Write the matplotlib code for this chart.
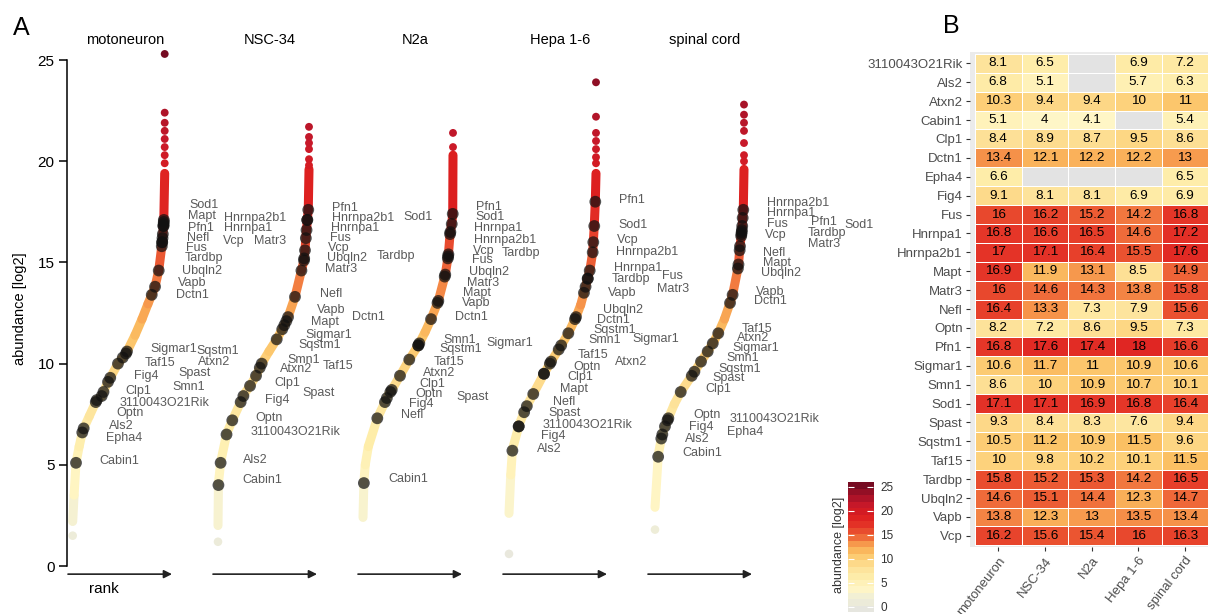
import numpy as np
import matplotlib.pyplot as plt
from matplotlib.colors import LinearSegmentedColormap, Normalize
from matplotlib.collections import LineCollection

plt.rcParams['font.family'] = ['Liberation Sans', 'DejaVu Sans']
NARROW = ['Liberation Sans Narrow', 'Liberation Sans', 'DejaVu Sans']

samples = ["motoneuron", "NSC-34", "N2a", "Hepa 1-6", "spinal cord"]
genes = ["3110043O21Rik", "Als2", "Atxn2", "Cabin1", "Clp1", "Dctn1", "Epha4",
         "Fig4", "Fus", "Hnrnpa1", "Hnrnpa2b1", "Mapt", "Matr3", "Nefl", "Optn",
         "Pfn1", "Sigmar1", "Smn1", "Sod1", "Spast", "Sqstm1", "Taf15", "Tardbp",
         "Ubqln2", "Vapb", "Vcp"]
nan = np.nan

# log2 abundance of the ALS genes (order of genes), nan = not detected
motoneuron = [8.1, 6.8, 10.3, 5.1, 8.4, 13.4, 6.6, 9.1, 16, 16.8, 17, 16.9, 16,
              16.4, 8.2, 16.8, 10.6, 8.6, 17.1, 9.3, 10.5, 10, 15.8, 14.6, 13.8, 16.2]
nsc34 = [6.5, 5.1, 9.4, 4, 8.9, 12.1, nan, 8.1, 16.2, 16.6, 17.1, 11.9, 14.6,
         13.3, 7.2, 17.6, 11.7, 10, 17.1, 8.4, 11.2, 9.8, 15.2, 15.1, 12.3, 15.6]
n2a = [nan, nan, 9.4, 4.1, 8.7, 12.2, nan, 8.1, 15.2, 16.5, 16.4, 13.1, 14.3,
       7.3, 8.6, 17.4, 11, 10.9, 16.9, 8.3, 10.9, 10.2, 15.3, 14.4, 13, 15.4]
hepa16 = [6.9, 5.7, 10, nan, 9.5, 12.2, nan, 6.9, 14.2, 14.6, 15.5, 8.5, 13.8,
          7.9, 9.5, 18, 10.9, 10.7, 16.8, 7.6, 11.5, 10.1, 14.2, 12.3, 13.5, 16]
spinal_cord = [7.2, 6.3, 11, 5.4, 8.6, 13, 6.5, 6.9, 16.8, 17.2, 17.6, 14.9, 15.8,
               15.6, 7.3, 16.6, 10.6, 10.1, 16.4, 9.4, 9.6, 11.5, 16.5, 14.7, 13.4, 16.3]

# rank curves: rank fraction -> abundance
moto_rank = [0, 0.015, 0.036, 0.07, 0.109, 0.18, 0.261, 0.315, 0.384, 0.492, 0.579,
             0.677, 0.753, 0.818, 0.859, 0.895, 0.935, 0.971, 0.99, 1.0]
moto_abund = [2.2, 3.5, 5.1, 5.9, 6.7, 7.4, 8.2, 8.4, 9.1, 10.0, 10.5, 11.4, 12.2,
              12.95, 13.4, 13.8, 14.6, 15.9, 17.0, 19.4]
nsc_rank = [0, 0.005, 0.03, 0.096, 0.157, 0.249, 0.289, 0.352, 0.418, 0.48, 0.56,
            0.645, 0.718, 0.762, 0.846, 0.92, 0.945, 0.956, 0.967, 0.975, 0.981, 0.992, 1.0]
nsc_abund = [2.0, 4.1, 5.15, 6.55, 7.2, 8.1, 8.5, 8.9, 9.4, 10.0, 10.6, 11.2, 11.8,
             12.2, 13.3, 14.66, 15.1, 15.6, 16.3, 16.7, 17.1, 17.6, 19.6]
n2a_rank = [0, 0.01, 0.025, 0.059, 0.159, 0.244, 0.281, 0.319, 0.411, 0.514, 0.614,
            0.689, 0.756, 0.837, 0.914, 0.948, 0.967, 0.986, 0.997, 1.0]
n2a_abund = [2.4, 4.16, 5.0, 5.9, 7.3, 8.1, 8.45, 8.7, 9.4, 10.2, 10.9, 11.55, 12.2,
             13.1, 14.4, 15.35, 16.4, 16.9, 17.4, 20.3]
hepa_rank = [0, 0.02, 0.04, 0.118, 0.164, 0.21, 0.279, 0.402, 0.483, 0.586, 0.682,
             0.77, 0.824, 0.874, 0.905, 0.931, 0.962, 0.969, 0.98, 0.992, 1.0]
hepa_abund = [2.6, 4.5, 5.77, 7.0, 7.5, 7.95, 8.5, 9.5, 10.1, 10.8, 11.5, 12.3, 12.9,
              13.7, 14.2, 14.66, 15.5, 16.0, 16.8, 18.0, 19.4]
spinal_rank = [0, 0.037, 0.075, 0.112, 0.15, 0.217, 0.289, 0.413, 0.517, 0.592, 0.649,
               0.711, 0.78, 0.843, 0.872, 0.936, 0.955, 0.974, 0.98, 0.985, 0.992, 1.0]
spinal_abund = [2.9, 5.5, 6.4, 6.9, 7.3, 8.0, 8.6, 9.4, 10.1, 10.6, 11.0, 11.5, 12.2,
                13.0, 13.4, 14.8, 15.8, 16.5, 16.8, 17.2, 17.6, 19.6]

# most abundant proteins (separate dots above the curve) and the lowest ones
moto_top = [19.9, 20.3, 20.7, 21.1, 21.5, 21.9, 22.4, 25.3]
nsc_top = [19.8, 20.1, 20.6, 20.9, 21.2, 21.7]
n2a_top = [20.7, 21.4]
hepa_top = [19.9, 20.2, 20.6, 21.0, 21.4, 22.2, 23.9]
spinal_top = [20.0, 20.3, 20.9, 21.5, 21.9, 22.3, 22.8]
moto_low = [1.5]
nsc_low = [1.2]
n2a_low = []
hepa_low = [0.6]
spinal_low = [1.8]

values = [motoneuron, nsc34, n2a, hepa16, spinal_cord]
curves = [(moto_rank, moto_abund, moto_top, moto_low),
          (nsc_rank, nsc_abund, nsc_top, nsc_low),
          (n2a_rank, n2a_abund, n2a_top, n2a_low),
          (hepa_rank, hepa_abund, hepa_top, hepa_low),
          (spinal_rank, spinal_abund, spinal_top, spinal_low)]

# layout of panel A (x in pixels)
panel_x0 = [72, 217, 362, 507, 652]
curve_x0 = [72.7, 218, 363, 509, 655]
curve_w = [92, 91, 90, 87, 89]

# gene label placement (x offset from panel start, y in abundance units)
label_pos = [
    {"Sod1": (117, 17.84), "Mapt": (116, 17.3), "Pfn1": (116, 16.71), "Nefl": (115, 16.21),
     "Fus": (114, 15.71), "Tardbp": (113, 15.24), "Ubqln2": (110, 14.58), "Vapb": (106, 13.96),
     "Dctn1": (104, 13.38), "Sigmar1": (78, 10.71), "Sqstm1": (124, 10.61), "Taf15": (73, 10.03),
     "Atxn2": (126, 10.08), "Fig4": (62, 9.41), "Spast": (106, 9.54), "Clp1": (53, 8.67),
     "Smn1": (100, 8.86), "3110043O21Rik": (48, 8.05), "Optn": (44, 7.54), "Als2": (37, 6.92),
     "Epha4": (34, 6.34), "Cabin1": (27, 5.18), "Hnrnpa2b1": (152, 17.18),
     "Hnrnpa1": (152, 16.68), "Vcp": (151, 16.07), "Matr3": (182, 16.07)},
    {"Pfn1": (115, 17.67), "Hnrnpa2b1": (115, 17.18), "Hnrnpa1": (114, 16.71), "Fus": (113, 16.22),
     "Vcp": (111, 15.7), "Ubqln2": (110, 15.2), "Matr3": (108, 14.66), "Nefl": (103, 13.42),
     "Vapb": (100, 12.65), "Dctn1": (135, 12.32), "Mapt": (94, 12.07), "Sigmar1": (88, 11.41),
     "Sqstm1": (81, 10.92), "Smn1": (70, 10.18), "Taf15": (106, 9.9), "Atxn2": (63, 9.72),
     "Clp1": (57, 9.03), "Spast": (85, 8.53), "Fig4": (48, 8.2), "Optn": (38, 7.3),
     "3110043O21Rik": (34, 6.61), "Als2": (26, 5.24), "Cabin1": (25, 4.25),
     "Sod1": (186, 17.23), "Tardbp": (160, 15.33)},
    {"Pfn1": (114, 17.72), "Sod1": (113, 17.23), "Hnrnpa1": (112, 16.71), "Hnrnpa2b1": (112, 16.11),
     "Vcp": (111, 15.56), "Fus": (110, 15.12), "Ubqln2": (107, 14.54), "Matr3": (105, 13.97),
     "Mapt": (101, 13.5), "Vapb": (100, 13.01), "Dctn1": (93, 12.29), "Smn1": (81, 11.17),
     "Sqstm1": (77, 10.71), "Sigmar1": (124, 11.0), "Taf15": (72, 10.09), "Atxn2": (61, 9.52),
     "Clp1": (57, 8.99), "Optn": (53, 8.5), "Spast": (94, 8.36), "Fig4": (47, 8.0),
     "Nefl": (39, 7.46), "Cabin1": (26, 4.28), "Tardbp": (140, 15.46)},
    {"Pfn1": (112, 18.08), "Sod1": (111, 16.85), "Vcp": (110, 16.11), "Hnrnpa2b1": (109, 15.53),
     "Hnrnpa1": (107, 14.71), "Tardbp": (105, 14.16), "Vapb": (101, 13.5), "Ubqln2": (96, 12.65),
     "Dctn1": (90, 12.15), "Sqstm1": (86, 11.66), "Smn1": (81, 11.17), "Sigmar1": (125, 11.2),
     "Taf15": (71, 10.42), "Atxn2": (108, 10.09), "Optn": (66, 9.85), "Clp1": (60, 9.32),
     "Mapt": (53, 8.73), "Nefl": (46, 8.12), "Spast": (41, 7.57), "3110043O21Rik": (36, 6.97),
     "Fig4": (34, 6.42), "Als2": (30, 5.77), "Fus": (155, 14.33), "Matr3": (150, 13.67)},
    {"Hnrnpa2b1": (115, 17.92), "Hnrnpa1": (115, 17.43), "Fus": (115, 16.88), "Vcp": (113, 16.35),
     "Pfn1": (159, 17.01), "Tardbp": (156, 16.47), "Matr3": (156, 15.91), "Sod1": (192, 16.85),
     "Nefl": (111, 15.48), "Mapt": (111, 14.99), "Ubqln2": (109, 14.46), "Vapb": (104, 13.55),
     "Dctn1": (102, 13.11), "Taf15": (90, 11.69), "Atxn2": (85, 11.25), "Sigmar1": (80, 10.76),
     "Smn1": (74, 10.29), "Sqstm1": (66, 9.72), "Spast": (60, 9.27), "Clp1": (53, 8.73),
     "Optn": (41, 7.46), "Fig4": (37, 6.85), "Als2": (33, 6.26), "Cabin1": (30, 5.6),
     "3110043O21Rik": (78, 7.25), "Epha4": (75, 6.64)},
]

stops = [(0, "#e6e6df"), (2.5, "#f2f0d5"), (4, "#fff6c6"), (6.5, "#feedaa"),
         (8.5, "#fde096"), (10, "#fdd27c"), (11.5, "#fbc063"), (12.5, "#f9a955"),
         (13.5, "#f58f48"), (14.5, "#f06e3b"), (15.5, "#ea5230"), (16.5, "#e63d2a"),
         (17.5, "#e22b25"), (19, "#dc1e1f"), (21, "#c8192a"), (23, "#a51228"),
         (25, "#760b22")]
cmap = LinearSegmentedColormap.from_list("abund", [(v / 25, c) for v, c in stops])
norm = Normalize(0, 25)

fig = plt.figure(figsize=(12.08, 6.14), dpi=100)

# ---- panel A ----
ax = fig.add_axes([67 / 1208, 1 - 596.4 / 614, 813 / 1208, 28 * 20.24 / 614])
ax.set_xlim(67, 880)
ax.set_ylim(-1.5, 26.5)

for i in range(5):
    rank, abund, top, low = curves[i]
    x0, w = curve_x0[i], curve_w[i]
    r = np.array(rank)
    a = np.array(abund)
    pts = np.column_stack([x0 + r * w, a])
    segs = np.stack([pts[:-1], pts[1:]], axis=1)
    lc = LineCollection(segs, colors=cmap(norm((a[:-1] + a[1:]) / 2)),
                        linewidths=6.5, capstyle='round', joinstyle='round', zorder=2)
    ax.add_collection(lc)
    ax.scatter(np.full(len(top), x0 + w), top, s=32, c=cmap(norm(np.array(top))),
               edgecolors='none', zorder=3)
    if low:
        ax.scatter(np.full(len(low), x0), low, s=38, c=cmap(norm(np.array(low))),
                   edgecolors='none', zorder=3)

    v = np.array(values[i], dtype=float)
    ok = ~np.isnan(v)
    gx = x0 + np.interp(v[ok], a, r) * w
    ax.scatter(gx, v[ok], s=72, color='#111111', alpha=0.72, edgecolors='none', zorder=4)

    for g, (dx, y) in label_pos[i].items():
        ax.text(panel_x0[i] + dx, y, g, fontsize=9, family=NARROW, color='#5a5a5a',
                ha='left', va='center', zorder=5)

    ax.text(panel_x0[i] + 53, 26.0, samples[i], ha='center', va='center', fontsize=10.5)
    ax.annotate('', xy=(panel_x0[i] + 100, -0.4), xytext=(panel_x0[i] - 4, -0.4),
                arrowprops=dict(arrowstyle='-|>', color='#222222', lw=1.2,
                                mutation_scale=12, shrinkA=0, shrinkB=0),
                annotation_clip=False)

ax.text(104, -1.15, 'rank', ha='center', va='center', fontsize=11)
for s in ['top', 'right', 'bottom']:
    ax.spines[s].set_visible(False)
ax.spines['left'].set_bounds(0, 25)
ax.spines['left'].set_linewidth(1.1)
ax.set_xticks([])
ax.set_yticks([0, 5, 10, 15, 20, 25])
ax.tick_params(axis='y', length=6, width=1.1, labelsize=11, pad=3)
fig.text(20 / 1208, 1 - 309 / 614, 'abundance [log2]', rotation=90,
         ha='center', va='center', fontsize=10.5)
fig.text(21 / 1208, 1 - 28 / 614, 'A', ha='center', va='center', fontsize=18)

# ---- colour bar ----
cax = fig.add_axes([847.7 / 1208, 1 - 611.7 / 614, 25.6 / 1208, 130 / 614])
cax.imshow(np.linspace(0, 25, 20)[:, None], cmap=cmap, norm=norm, aspect='auto',
           origin='lower', extent=(0, 1, -1, 26))
cax.set_xlim(0, 1)
cax.set_ylim(-1, 26)
cax.set_xticks([])
cax.set_yticks([0, 5, 10, 15, 20, 25])
cax.tick_params(axis='y', direction='in', colors='white', length=4, width=0.8,
                left=True, right=True, labelleft=False, labelright=True, pad=5)
for t in cax.get_yticklabels():
    t.set_color('#333333')
    t.set_fontsize(8.5)
for s in cax.spines.values():
    s.set_visible(False)
fig.text(839 / 1208, 1 - 545 / 614, 'abundance [log2]', rotation=90, family=NARROW,
         ha='center', va='center', fontsize=9, color='#333333')

# ---- panel B ----
mat = np.array(values).T
hax = fig.add_axes([970.3 / 1208, 1 - 547.2 / 614, 242.7 / 1208, 495.2 / 614])
hax.set_facecolor('#ebebeb')
hcmap = cmap.with_extremes(bad='#e3e3e3')
hax.pcolormesh(np.arange(6) - 0.5, np.arange(len(genes) + 1) - 0.5,
               np.ma.masked_invalid(mat), cmap=hcmap, norm=norm,
               edgecolors='white', linewidth=0.7)
for gi in range(len(genes)):
    for si in range(5):
        val = mat[gi, si]
        if not np.isnan(val):
            hax.text(si, gi, f"{val:g}", ha='center', va='center', fontsize=9.7,
                     color='black')
hax.set_xlim(-0.6, 4.6)
hax.set_ylim(len(genes) - 0.4, -0.6)
for s in hax.spines.values():
    s.set_visible(False)
hax.set_yticks(range(len(genes)))
hax.set_yticklabels(genes, family=NARROW, fontsize=9.5, color='#4d4d4d')
hax.set_xticks(range(5))
hax.set_xticklabels(samples, rotation=52, ha='right', rotation_mode='anchor',
                    fontsize=9.5, color='#4d4d4d')
hax.tick_params(length=3, color='#333333', width=0.8, pad=2.5)
fig.text(951 / 1208, 1 - 26 / 614, 'B', ha='center', va='center', fontsize=18)

fig.savefig('out.png', dpi=100)
